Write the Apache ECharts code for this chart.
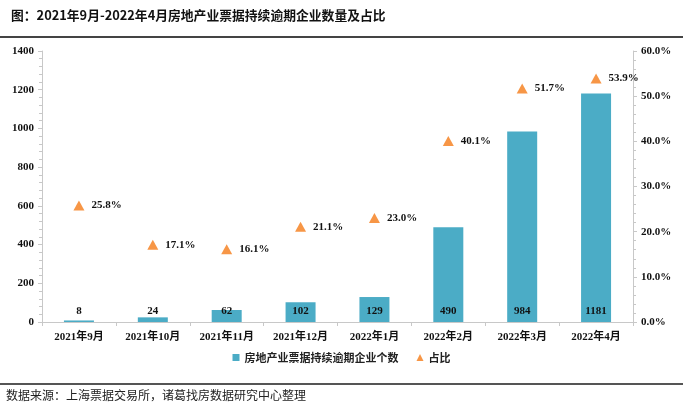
<!DOCTYPE html>
<html><head><meta charset="utf-8">
<script src="https://cdn.jsdelivr.net/npm/echarts@6/dist/echarts.min.js"></script>
<style>html,body{margin:0;padding:0;background:#fff}#c{width:683px;height:412px}</style>
</head><body><div id="c"></div>
<script>
const categories = ['2021年9月','2021年10月','2021年11月','2021年12月','2022年1月','2022年2月','2022年3月','2022年4月'];
const counts = [8, 24, 62, 102, 129, 490, 984, 1181];
const ratios = [25.8, 17.1, 16.1, 21.1, 23.0, 40.1, 51.7, 53.9];
const leftTicks = [0, 200, 400, 600, 800, 1000, 1200, 1400];
const rightTicks = [0, 10, 20, 30, 40, 50, 60];

const serif = '"Liberation Serif","Noto Sans CJK SC",serif';
const axisTxt = {color:'#111', fontFamily: serif, fontWeight:'bold', fontSize:11};
const chart = echarts.init(document.getElementById('c'));
chart.setOption({
  animation:false,
  title:{text:'图：2021年9月-2022年4月房地产业票据持续逾期企业数量及占比', left:6, top:4,
    textStyle:{fontFamily:'"Noto Sans CJK SC"', fontWeight:'bold', fontSize:12.8, color:'#111'}},
  grid:{left:42, right:50, top:51, bottom:90},
  legend:{bottom:44, left:'center', itemWidth:7, itemHeight:7, itemGap:18,
    textStyle:{fontFamily:'"Noto Sans CJK SC"', fontWeight:'bold', fontSize:11, color:'#222'},
    data:[{name:'房地产业票据持续逾期企业个数', icon:'rect'},{name:'占比', icon:'triangle'}]},
  xAxis:{type:'category', data:categories,
    axisLine:{lineStyle:{color:'#c8c8c8'}},
    axisTick:{show:true, alignWithLabel:false, length:4, lineStyle:{color:'#c8c8c8'}},
    axisLabel:Object.assign({margin:10}, axisTxt)},
  yAxis:[
    {type:'value', min:0, max:1400, interval:200,
      axisLine:{show:true, lineStyle:{color:'#c8c8c8'}},
      axisTick:{show:true, length:4, lineStyle:{color:'#c8c8c8'}},
      minorTick:{show:true, splitNumber:5, length:3, lineStyle:{color:'#c8c8c8'}},
      splitLine:{show:false},
      axisLabel:Object.assign({margin:8, formatter:v=>leftTicks.includes(v)?String(v):''}, axisTxt)},
    {type:'value', min:0, max:60, interval:10,
      axisLine:{show:true, lineStyle:{color:'#c8c8c8'}},
      axisTick:{show:true, length:4, lineStyle:{color:'#c8c8c8'}},
      minorTick:{show:true, splitNumber:5, length:3, lineStyle:{color:'#c8c8c8'}},
      splitLine:{show:false},
      axisLabel:Object.assign({margin:8, formatter:v=>rightTicks.includes(v)?v.toFixed(1)+'%':''}, axisTxt)}
  ],
  series:[
    {name:'房地产业票据持续逾期企业个数', type:'bar', data:counts, barWidth:30,
      itemStyle:{color:'#4BACC6'},
      label:{show:true, position:'insideBottom', distance:5, color:'#111', fontFamily:serif, fontWeight:'bold', fontSize:11}},
    {name:'占比', type:'scatter', yAxisIndex:1, data:ratios, symbol:'triangle', symbolSize:[11,10],
      itemStyle:{color:'#F79646', opacity:1},
      label:{show:true, position:'right', distance:7, color:'#111', fontFamily:serif, fontWeight:'bold', fontSize:11,
        formatter:p=>p.value.toFixed(1)+'%'}}
  ],
  graphic:[
    {type:'rect', shape:{x:0, y:36, width:683, height:2}, style:{fill:'#444'}},
    {type:'rect', shape:{x:0, y:383, width:683, height:2}, style:{fill:'#555'}},
    {type:'text', left:6, top:389, style:{text:'数据来源：上海票据交易所，诸葛找房数据研究中心整理', fontFamily:'"Noto Sans CJK SC"', fontSize:12, fill:'#222'}}
  ]
});
</script></body></html>
